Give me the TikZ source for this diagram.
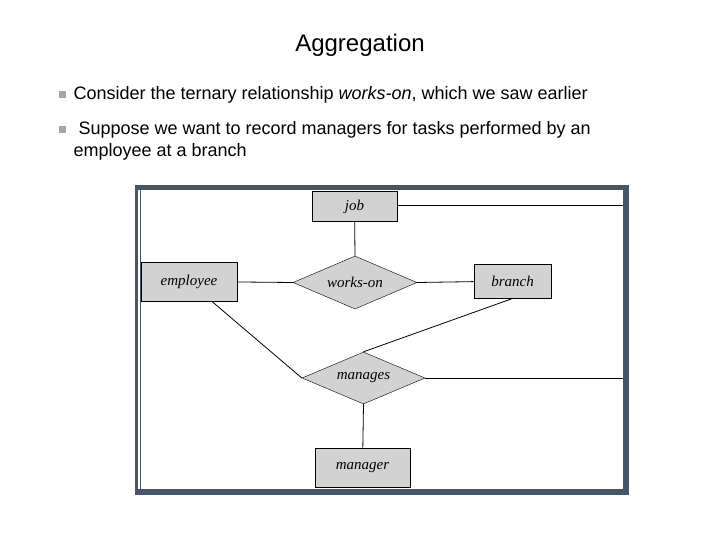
\documentclass[tikz,border=0pt]{standalone}
\usepackage{fontspec}
\setmainfont{Liberation Sans}
\newfontfamily\erfont{Liberation Serif}
\usetikzlibrary{shapes.geometric}
\definecolor{framec}{RGB}{72,84,104}
\definecolor{boxg}{RGB}{210,210,210}
\begin{document}
\begin{tikzpicture}[x=1pt,y=-1pt,
  ent/.style={draw=black,fill=boxg,line width=1pt,minimum width=#1,minimum height=37pt,inner sep=0pt,font=\erfont\itshape\fontsize{15}{15}\selectfont},
  rel/.style={draw=black,fill=boxg,diamond,aspect=2.3,minimum width=#1,minimum height=53pt,inner sep=0pt,font=\erfont\itshape\fontsize{15}{15}\selectfont},
  conn/.style={line width=0.8pt},
  bul/.style={fill=gray!70,minimum size=7pt,inner sep=0pt},
  btext/.style={anchor=west,font=\fontsize{18}{22}\selectfont,align=left}]
\useasboundingbox (0,0) rectangle (720,540);
\fill[framec] (135,185) rectangle (629,495);
\fill[white] (138,190) rectangle (623,489);
\draw[framec,line width=1pt] (140.5,190) -- (140.5,489);
\node[font=\fontsize{24}{28}\selectfont] (title) at (360,45) {Aggregation};
\node[bul] (b1) at (62,95) {};
\node[btext] (t1) at (70,95) {Consider the ternary relationship \textit{works-on}, which we saw earlier};
\node[bul] (b2) at (62,130) {};
\node[btext,anchor=north west] (t2) at (70,118) {\ Suppose we want to record managers for tasks performed by an\\ employee at a branch};
\coordinate (r1) at (622.5,205);
\coordinate (r2) at (622.5,378);
\node[ent=85pt,minimum height=30pt] (job) at (354.5,206.5) {job};
\node[ent=96pt,minimum height=39pt] (emp) at (189,281.5) {employee};
\node[ent=77pt,minimum height=34pt] (br) at (512.5,281) {branch};
\node[ent=95pt,minimum height=39pt] (mgr) at (362.5,467.5) {manager};
\node[rel=124pt] (wo) at (355,282.5) {works-on};
\node[rel=123pt,minimum height=52pt] (mg) at (363.5,378) {manages};
\draw[conn] (job.east |- r1) -- (r1);
\draw[conn] (job) -- (wo.north);
\draw[conn] (emp) -- (wo.west);
\draw[conn] (wo.east) -- (br);
\draw[conn] ([xshift=23pt]emp.south) -- (mg.west);
\draw[conn] (br.south) -- (mg.north);
\draw[conn] (mg.east) -- (r2);
\draw[conn] (mg.south) -- (mgr);
\end{tikzpicture}
\end{document}
